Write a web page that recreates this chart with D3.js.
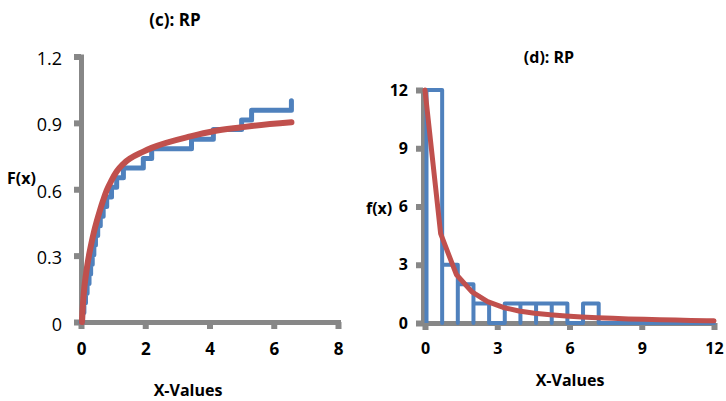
<!DOCTYPE html>
<html>
<head>
<meta charset="utf-8">
<script src="https://cdn.jsdelivr.net/npm/d3@7"></script>
<style>
  body { margin: 0; background: #fff; }
  svg text { font-family: "Open Sans", "Noto Sans", sans-serif; fill: #000; }
  .axis path, .axis line { stroke: #878787; }
  .axis path { stroke-width: 5; stroke-linecap: square; }
  .axis line { stroke-width: 6; }
</style>
</head>
<body>
<script>
// (c) empirical CDF (blue steps) and fitted CDF (red)
var cdfStepX = [0.05, 0.09, 0.14, 0.19, 0.25, 0.30, 0.35, 0.40, 0.45, 0.52, 0.60, 0.69, 0.80, 0.95, 1.11, 1.32, 1.94, 2.20, 3.44, 4.12, 5.00, 5.31, 6.55];
var cdfStepY = [0.043, 0.087, 0.130, 0.174, 0.217, 0.261, 0.304, 0.348, 0.391, 0.435, 0.478, 0.522, 0.565, 0.609, 0.652, 0.696, 0.739, 0.783, 0.826, 0.870, 0.913, 0.957, 1.000];
var cdfFitX = [0.03, 0.06, 0.10, 0.15, 0.20, 0.26, 0.33, 0.40, 0.49, 0.59, 0.69, 0.80, 0.95, 1.11, 1.32, 1.94, 2.20, 3.44, 4.12, 5.00, 5.31, 6.55];
var cdfFitY = [0.0, 0.08, 0.15, 0.21, 0.26, 0.31, 0.36, 0.405, 0.455, 0.505, 0.55, 0.595, 0.64, 0.68, 0.715, 0.77, 0.787, 0.84, 0.862, 0.88, 0.886, 0.903];
var cdfXTicks = [0, 2, 4, 6, 8];
var cdfYTicks = [0, 0.3, 0.6, 0.9, 1.2];

// (d) histogram outline (blue) and fitted pdf (red)
var binEdges = [0, 0.65, 1.3, 1.95, 2.6, 3.25, 3.9, 4.55, 5.2, 5.85, 6.5, 7.15];
var binCounts = [12, 3, 2, 1, 0, 1, 1, 1, 1, 0, 1];
var pdfX = [0, 0.65, 1.3, 1.95, 2.6, 3.25, 3.9, 4.55, 5.2, 5.85, 6.5, 7.15, 7.8, 8.45, 9.1, 9.75, 10.4, 11.05, 11.7, 12];
var pdfY = [12, 4.6, 2.5, 1.6, 1.1, 0.8, 0.62, 0.5, 0.42, 0.36, 0.31, 0.27, 0.24, 0.21, 0.19, 0.17, 0.15, 0.13, 0.12, 0.11];
var pdfTicks = [0, 3, 6, 9, 12];

var blue = "#4F81BD", red = "#C0504D";

var svg = d3.select("body").append("svg")
  .attr("width", 726).attr("height", 401);

// ---------- left chart ----------
var x1 = d3.scaleLinear().domain([0, 8]).range([81, 338]);
var y1 = d3.scaleLinear().domain([0, 1.2]).range([322, 56.5]);

var ax1 = svg.append("g").attr("class", "axis")
  .attr("transform", "translate(0," + y1(0) + ")")
  .call(d3.axisBottom(x1).tickValues(cdfXTicks).tickSize(7).tickSizeOuter(0).tickPadding(14));
ax1.selectAll("text").style("font-size", "17px").style("font-weight", "bold");

var ay1 = svg.append("g").attr("class", "axis")
  .attr("transform", "translate(" + x1(0) + ",0)")
  .call(d3.axisLeft(y1).tickValues(cdfYTicks).tickSize(7).tickSizeOuter(0).tickPadding(12)
    .tickFormat(function(d){ return d === 0 ? "0" : d3.format(".1f")(d); }));
ay1.selectAll("text").style("font-size", "18px").attr("dy", "0.45em");

var stepPts = [[0, 0]].concat(cdfStepX.map(function(d, i){ return [d, cdfStepY[i]]; }));
svg.append("path")
  .attr("d", d3.line().x(function(d){ return x1(d[0]); }).y(function(d){ return y1(d[1]); })
    .curve(d3.curveStepAfter)(stepPts))
  .attr("fill", "none").attr("stroke", blue).attr("stroke-width", 5)
  .attr("stroke-linejoin", "round").attr("stroke-linecap", "round");

svg.append("path")
  .attr("d", d3.line().x(function(d){ return x1(d); }).y(function(d, i){ return y1(cdfFitY[i]); })
    .curve(d3.curveMonotoneX)(cdfFitX))
  .attr("fill", "none").attr("stroke", red).attr("stroke-width", 6)
  .attr("stroke-linejoin", "round").attr("stroke-linecap", "round");

svg.append("text").attr("x", 175).attr("y", 26).attr("text-anchor", "middle")
  .style("font-size", "17px").style("font-weight", "bold").text("(c): RP");
svg.append("text").attr("x", 7).attr("y", 184)
  .style("font-size", "16px").style("font-weight", "bold").text("F(x)");
svg.append("text").attr("x", 188).attr("y", 396).attr("text-anchor", "middle")
  .style("font-size", "16px").style("font-weight", "bold").text("X-Values");

// ---------- right chart ----------
var x2 = d3.scaleLinear().domain([0, 12]).range([425, 714]);
var y2 = d3.scaleLinear().domain([0, 12]).range([323, 90]);

var ax2 = svg.append("g").attr("class", "axis")
  .attr("transform", "translate(0," + y2(0) + ")")
  .call(d3.axisBottom(x2).tickValues(pdfTicks).tickSize(7).tickSizeOuter(0).tickPadding(13));
ax2.selectAll("text").style("font-size", "16px").style("font-weight", "bold");
ax2.select(".domain").attr("transform", "translate(-2,0)");

var ay2 = svg.append("g").attr("class", "axis")
  .attr("transform", "translate(" + (x2(0) - 2) + ",0)")
  .call(d3.axisLeft(y2).tickValues(pdfTicks).tickSize(7).tickSizeOuter(0).tickPadding(8));
ay2.selectAll("text").style("font-size", "16px").style("font-weight", "bold");

// histogram drawn as one outline: up, across, down for every bin
var histPts = [];
binCounts.forEach(function(c, i){
  histPts.push([binEdges[i], 0], [binEdges[i], c], [binEdges[i + 1], c], [binEdges[i + 1], 0]);
});
histPts.push([12, 0]);
svg.append("path")
  .attr("d", d3.line().x(function(d){ return x2(d[0]) + 1.5; }).y(function(d){ return y2(d[1]); })(histPts))
  .attr("fill", "none").attr("stroke", blue).attr("stroke-width", 4)
  .attr("stroke-linejoin", "round");

svg.append("path")
  .attr("d", d3.line().x(function(d){ return x2(d); }).y(function(d, i){ return y2(pdfY[i]); })(pdfX))
  .attr("fill", "none").attr("stroke", red).attr("stroke-width", 5)
  .attr("stroke-linejoin", "round").attr("stroke-linecap", "round");

svg.append("text").attr("x", 549).attr("y", 63).attr("text-anchor", "middle")
  .style("font-size", "16px").style("font-weight", "bold").text("(d): RP");
svg.append("text").attr("x", 366).attr("y", 214)
  .style("font-size", "16px").style("font-weight", "bold").text("f(x)");
svg.append("text").attr("x", 570).attr("y", 386).attr("text-anchor", "middle")
  .style("font-size", "16px").style("font-weight", "bold").text("X-Values");
</script>
</body>
</html>
